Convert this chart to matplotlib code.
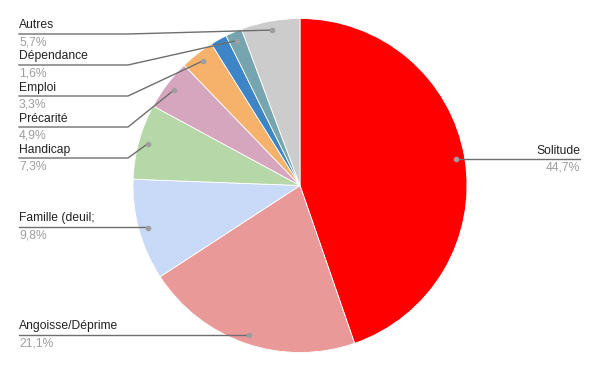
import matplotlib
matplotlib.use("Agg")
import matplotlib.pyplot as plt
import numpy as np

# Data
categories = ["Solitude", "Angoisse/Déprime", "Famille (deuil;", "Handicap",
              "Précarité", "Emploi", "", "Dépendance", "Autres"]
values = [44.7, 21.1, 9.8, 7.3, 4.9, 3.3, 1.6, 1.6, 5.7]
pct_labels = ["44,7%", "21,1%", "9,8%", "7,3%", "4,9%", "3,3%", "", "1,6%", "5,7%"]
colors = ["#ff0000", "#ea9999", "#c9daf8", "#b6d7a8", "#d5a6bd",
          "#f6b26b", "#3d85c6", "#76a5af", "#cccccc"]

W, H = 600, 371
fig = plt.figure(figsize=(6, 3.71), dpi=100)
ax = fig.add_axes([0, 0, 1, 1])
cx, cy, R = 300, H - 185.5, 167

wedges, _ = ax.pie(values, colors=colors, startangle=90, counterclock=False,
                   center=(cx, cy), radius=R,
                   wedgeprops=dict(edgecolor="white", linewidth=0.6))
ax.set_xlim(0, W)
ax.set_ylim(0, H)
ax.set_aspect("equal")
ax.axis("off")

# label layout (pixel y of leader line from top), side
layout = {
    "Solitude": ("right", 159),
    "Angoisse/Déprime": ("left", 335),
    "Famille (deuil;": ("left", 227),
    "Handicap": ("left", 158),
    "Précarité": ("left", 127),
    "Emploi": ("left", 96),
    "Dépendance": ("left", 65),
    "Autres": ("left", 34),
}
font = "Liberation Sans"
fs = 8.7
line_col = "#6e6e6e"
for w, name, pct in zip(wedges, categories, pct_labels):
    if not name:
        continue
    mid = np.deg2rad((w.theta1 + w.theta2) / 2)
    dx = cx + 0.946 * R * np.cos(mid)
    dy = cy + 0.946 * R * np.sin(mid)
    side, ypix = layout[name]
    ly = H - ypix
    ax.plot([dx], [dy], "o", color="#9e9e9e", ms=3, zorder=5)
    if side == "right":
        xe = 580
        ax.plot([dx, xe], [ly, ly], color=line_col, lw=1, zorder=4)
        ax.text(xe, ly + 2.5, name, ha="right", va="bottom", fontsize=fs,
                family=font, color="#222222")
        ax.text(xe, ly - 2.5, pct, ha="right", va="top", fontsize=fs,
                family=font, color="#9e9e9e")
    else:
        xs = 19
        if abs(dy - ly) > 1.5:
            xs_el = 128
            ax.plot([xs, xs_el, dx], [ly, ly, dy], color=line_col, lw=1, zorder=4)
        else:
            ax.plot([xs, dx], [ly, ly], color=line_col, lw=1, zorder=4)
        ax.text(xs, ly + 2.5, name, ha="left", va="bottom", fontsize=fs,
                family=font, color="#222222")
        ax.text(xs, ly - 2.5, pct, ha="left", va="top", fontsize=fs,
                family=font, color="#9e9e9e")

fig.savefig("out.png", dpi=100)
